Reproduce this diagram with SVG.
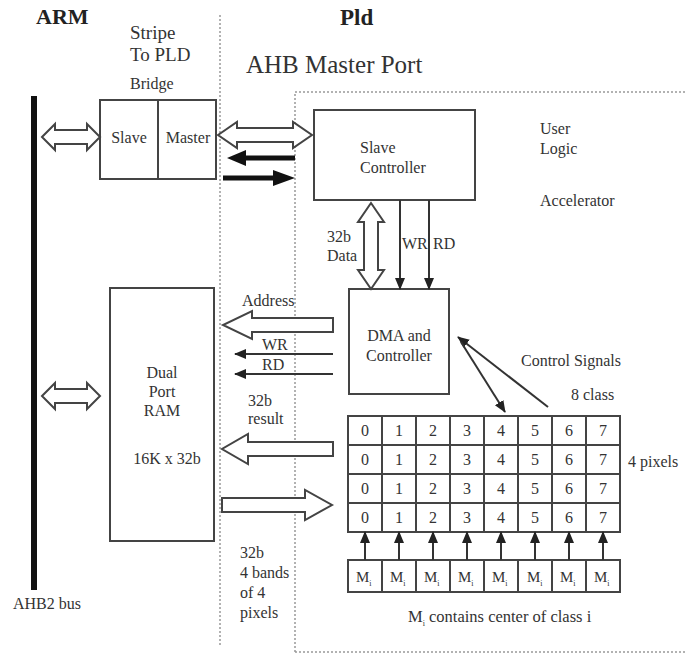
<svg xmlns="http://www.w3.org/2000/svg" width="685" height="655" viewBox="0 0 685 655">
<defs>
<style>
text{fill:#333}
.b{font-weight:bold;fill:#222}
.box{fill:none;stroke:#444;stroke-width:2}
.dot{fill:none;stroke:#999;stroke-width:1.5;stroke-dasharray:2,2}
.hol{fill:#fff;stroke:#444;stroke-width:2;stroke-linejoin:miter}
.ln{fill:none;stroke:#333;stroke-width:2}
.blk{fill:#111;stroke:none}
.c{text-anchor:middle}
</style>
<marker id="ah" markerUnits="userSpaceOnUse" markerWidth="12" markerHeight="12" viewBox="0 0 12 12" refX="11" refY="6" orient="auto"><path d="M0,1 L12,6 L0,11 Z" fill="#222"/></marker>
</defs>
<rect width="685" height="655" fill="#fff"/>
<g font-size="16" font-family="'Liberation Serif', 'Times New Roman', serif">
<g id="regions">
<line class="dot" x1="220" y1="15" x2="220" y2="647"/>
<path class="dot" d="M295,652 L295,92 L685,92"/>
<line class="dot" x1="295" y1="652" x2="685" y2="652"/>
<text class="b" x="36" y="24" font-size="22">ARM</text>
<text class="b" x="340" y="25" font-size="23">Pld</text>
<text x="246" y="73" font-size="25">AHB Master Port</text>
<text x="130" y="39" font-size="19">Stripe</text>
<text x="130" y="61" font-size="19">To PLD</text>
<text x="130" y="89">Bridge</text>
<text x="540" y="134">User</text>
<text x="540" y="154">Logic</text>
<text x="540" y="206">Accelerator</text>
</g>

<g id="bus">
<rect x="31" y="96" width="6" height="494" fill="#111"/>
<text x="13" y="609">AHB2 bus</text>
</g>

<g id="bridge">
<rect class="box" x="100" y="100" width="116" height="79"/>
<line class="box" x1="158" y1="100" x2="158" y2="179"/>
<text class="c" x="129" y="143">Slave</text>
<text class="c" x="188" y="143">Master</text>
</g>

<g id="slave-controller">
<rect class="box" x="314" y="110" width="161" height="90"/>
<text x="360" y="153">Slave</text>
<text x="360" y="173">Controller</text>
</g>

<g id="dma">
<rect class="box" x="349" y="289" width="100" height="105"/>
<text class="c" x="399" y="341">DMA and</text>
<text class="c" x="399" y="361">Controller</text>
</g>

<g id="ram">
<rect class="box" x="110" y="288" width="104" height="253"/>
<text class="c" x="162" y="378">Dual</text>
<text class="c" x="162" y="397">Port</text>
<text class="c" x="162" y="416">RAM</text>
<text class="c" x="167" y="464">16K x 32b</text>
</g>

<g id="grid">
<rect class="box" x="348" y="416" width="272" height="116"/>
<g class="box">
<line x1="348" y1="445" x2="620" y2="445"/>
<line x1="348" y1="474" x2="620" y2="474"/>
<line x1="348" y1="503" x2="620" y2="503"/>
<line x1="382" y1="416" x2="382" y2="532"/>
<line x1="416" y1="416" x2="416" y2="532"/>
<line x1="450" y1="416" x2="450" y2="532"/>
<line x1="484" y1="416" x2="484" y2="532"/>
<line x1="518" y1="416" x2="518" y2="532"/>
<line x1="552" y1="416" x2="552" y2="532"/>
<line x1="586" y1="416" x2="586" y2="532"/>
</g>
<g class="c">
<text x="365" y="436">0</text><text x="399" y="436">1</text><text x="433" y="436">2</text><text x="467" y="436">3</text><text x="501" y="436">4</text><text x="535" y="436">5</text><text x="569" y="436">6</text><text x="603" y="436">7</text>
<text x="365" y="465">0</text><text x="399" y="465">1</text><text x="433" y="465">2</text><text x="467" y="465">3</text><text x="501" y="465">4</text><text x="535" y="465">5</text><text x="569" y="465">6</text><text x="603" y="465">7</text>
<text x="365" y="494">0</text><text x="399" y="494">1</text><text x="433" y="494">2</text><text x="467" y="494">3</text><text x="501" y="494">4</text><text x="535" y="494">5</text><text x="569" y="494">6</text><text x="603" y="494">7</text>
<text x="365" y="523">0</text><text x="399" y="523">1</text><text x="433" y="523">2</text><text x="467" y="523">3</text><text x="501" y="523">4</text><text x="535" y="523">5</text><text x="569" y="523">6</text><text x="603" y="523">7</text>
</g>
<text x="628" y="467">4 pixels</text>
<text x="571" y="400">8 class</text>
</g>

<g id="m-registers">
<rect class="box" x="348" y="560" width="272" height="32"/>
<g class="box">
<line x1="382" y1="560" x2="382" y2="592"/>
<line x1="416" y1="560" x2="416" y2="592"/>
<line x1="450" y1="560" x2="450" y2="592"/>
<line x1="484" y1="560" x2="484" y2="592"/>
<line x1="518" y1="560" x2="518" y2="592"/>
<line x1="552" y1="560" x2="552" y2="592"/>
<line x1="586" y1="560" x2="586" y2="592"/>
</g>
<g font-size="15">
<text x="356" y="582">M<tspan font-size="8" dy="4">i</tspan></text>
<text x="390" y="582">M<tspan font-size="8" dy="4">i</tspan></text>
<text x="424" y="582">M<tspan font-size="8" dy="4">i</tspan></text>
<text x="458" y="582">M<tspan font-size="8" dy="4">i</tspan></text>
<text x="492" y="582">M<tspan font-size="8" dy="4">i</tspan></text>
<text x="527" y="582">M<tspan font-size="8" dy="4">i</tspan></text>
<text x="560" y="582">M<tspan font-size="8" dy="4">i</tspan></text>
<text x="594" y="582">M<tspan font-size="8" dy="4">i</tspan></text>
</g>
<text x="408" y="622" font-size="16.5">M<tspan font-size="8" dy="4">i</tspan><tspan dy="-4"> contains center of class i</tspan></text>
</g>

<g id="connectors">
<polygon class="hol" points="42,137 55,124 55,130 87,130 87,124 100,137 87,150 87,144 55,144 55,150"/>
<polygon class="hol" points="42,396 55,383 55,389 87,389 87,383 100,396 87,409 87,403 55,403 55,409"/>
<polygon class="hol" points="218,135 237,122 237,128 293,128 293,122 312,135 293,148 293,142 237,142 237,148"/>
<polygon class="blk" points="295,155.5 246,155.5 246,150 227,158 246,166 246,160.5 295,160.5"/>
<polygon class="blk" points="223,175.5 273,175.5 273,170 295,178 273,186 273,180.5 223,180.5"/>
<polygon class="hol" points="371,203 384,222 378,222 378,270 384,270 371,289 358,270 364,270 364,222 358,222"/>
<text x="327" y="242">32b</text>
<text x="327" y="261">Data</text>
<line class="ln" x1="400" y1="200" x2="400" y2="289" marker-end="url(#ah)"/>
<line class="ln" x1="429" y1="200" x2="429" y2="289" marker-end="url(#ah)"/>
<text x="402" y="249">WR</text>
<text x="433" y="249">RD</text>
<polygon class="hol" points="333,318 252,318 252,311 223,325 252,339 252,332 333,332"/>
<text x="242" y="306">Address</text>
<line class="ln" x1="333" y1="354" x2="235" y2="354" marker-end="url(#ah)"/>
<line class="ln" x1="333" y1="374" x2="235" y2="374" marker-end="url(#ah)"/>
<text x="262" y="350">WR</text>
<text x="262" y="370">RD</text>
<text x="248" y="406">32b</text>
<text x="248" y="424">result</text>
<polygon class="hol" points="333,442 248,442 248,434 222,449 248,464 248,456 333,456"/>
<polygon class="hol" points="222,498 305,498 305,490 332,505 305,520 305,512 222,512"/>
<text x="240" y="558">32b</text>
<text x="240" y="578">4 bands</text>
<text x="240" y="598">of 4</text>
<text x="240" y="618">pixels</text>
<line class="ln" x1="548" y1="407" x2="458" y2="337" stroke-width="1.6" marker-end="url(#ah)"/>
<line class="ln" x1="461" y1="342" x2="505" y2="412" stroke-width="1.6" marker-end="url(#ah)"/>
<text x="521" y="366">Control Signals</text>
<line class="ln" x1="365" y1="560" x2="365" y2="532" marker-end="url(#ah)"/>
<line class="ln" x1="399" y1="560" x2="399" y2="532" marker-end="url(#ah)"/>
<line class="ln" x1="433" y1="560" x2="433" y2="532" marker-end="url(#ah)"/>
<line class="ln" x1="467" y1="560" x2="467" y2="532" marker-end="url(#ah)"/>
<line class="ln" x1="501" y1="560" x2="501" y2="532" marker-end="url(#ah)"/>
<line class="ln" x1="535" y1="560" x2="535" y2="532" marker-end="url(#ah)"/>
<line class="ln" x1="569" y1="560" x2="569" y2="532" marker-end="url(#ah)"/>
<line class="ln" x1="603" y1="560" x2="603" y2="532" marker-end="url(#ah)"/>
</g>
</g>
</svg>
